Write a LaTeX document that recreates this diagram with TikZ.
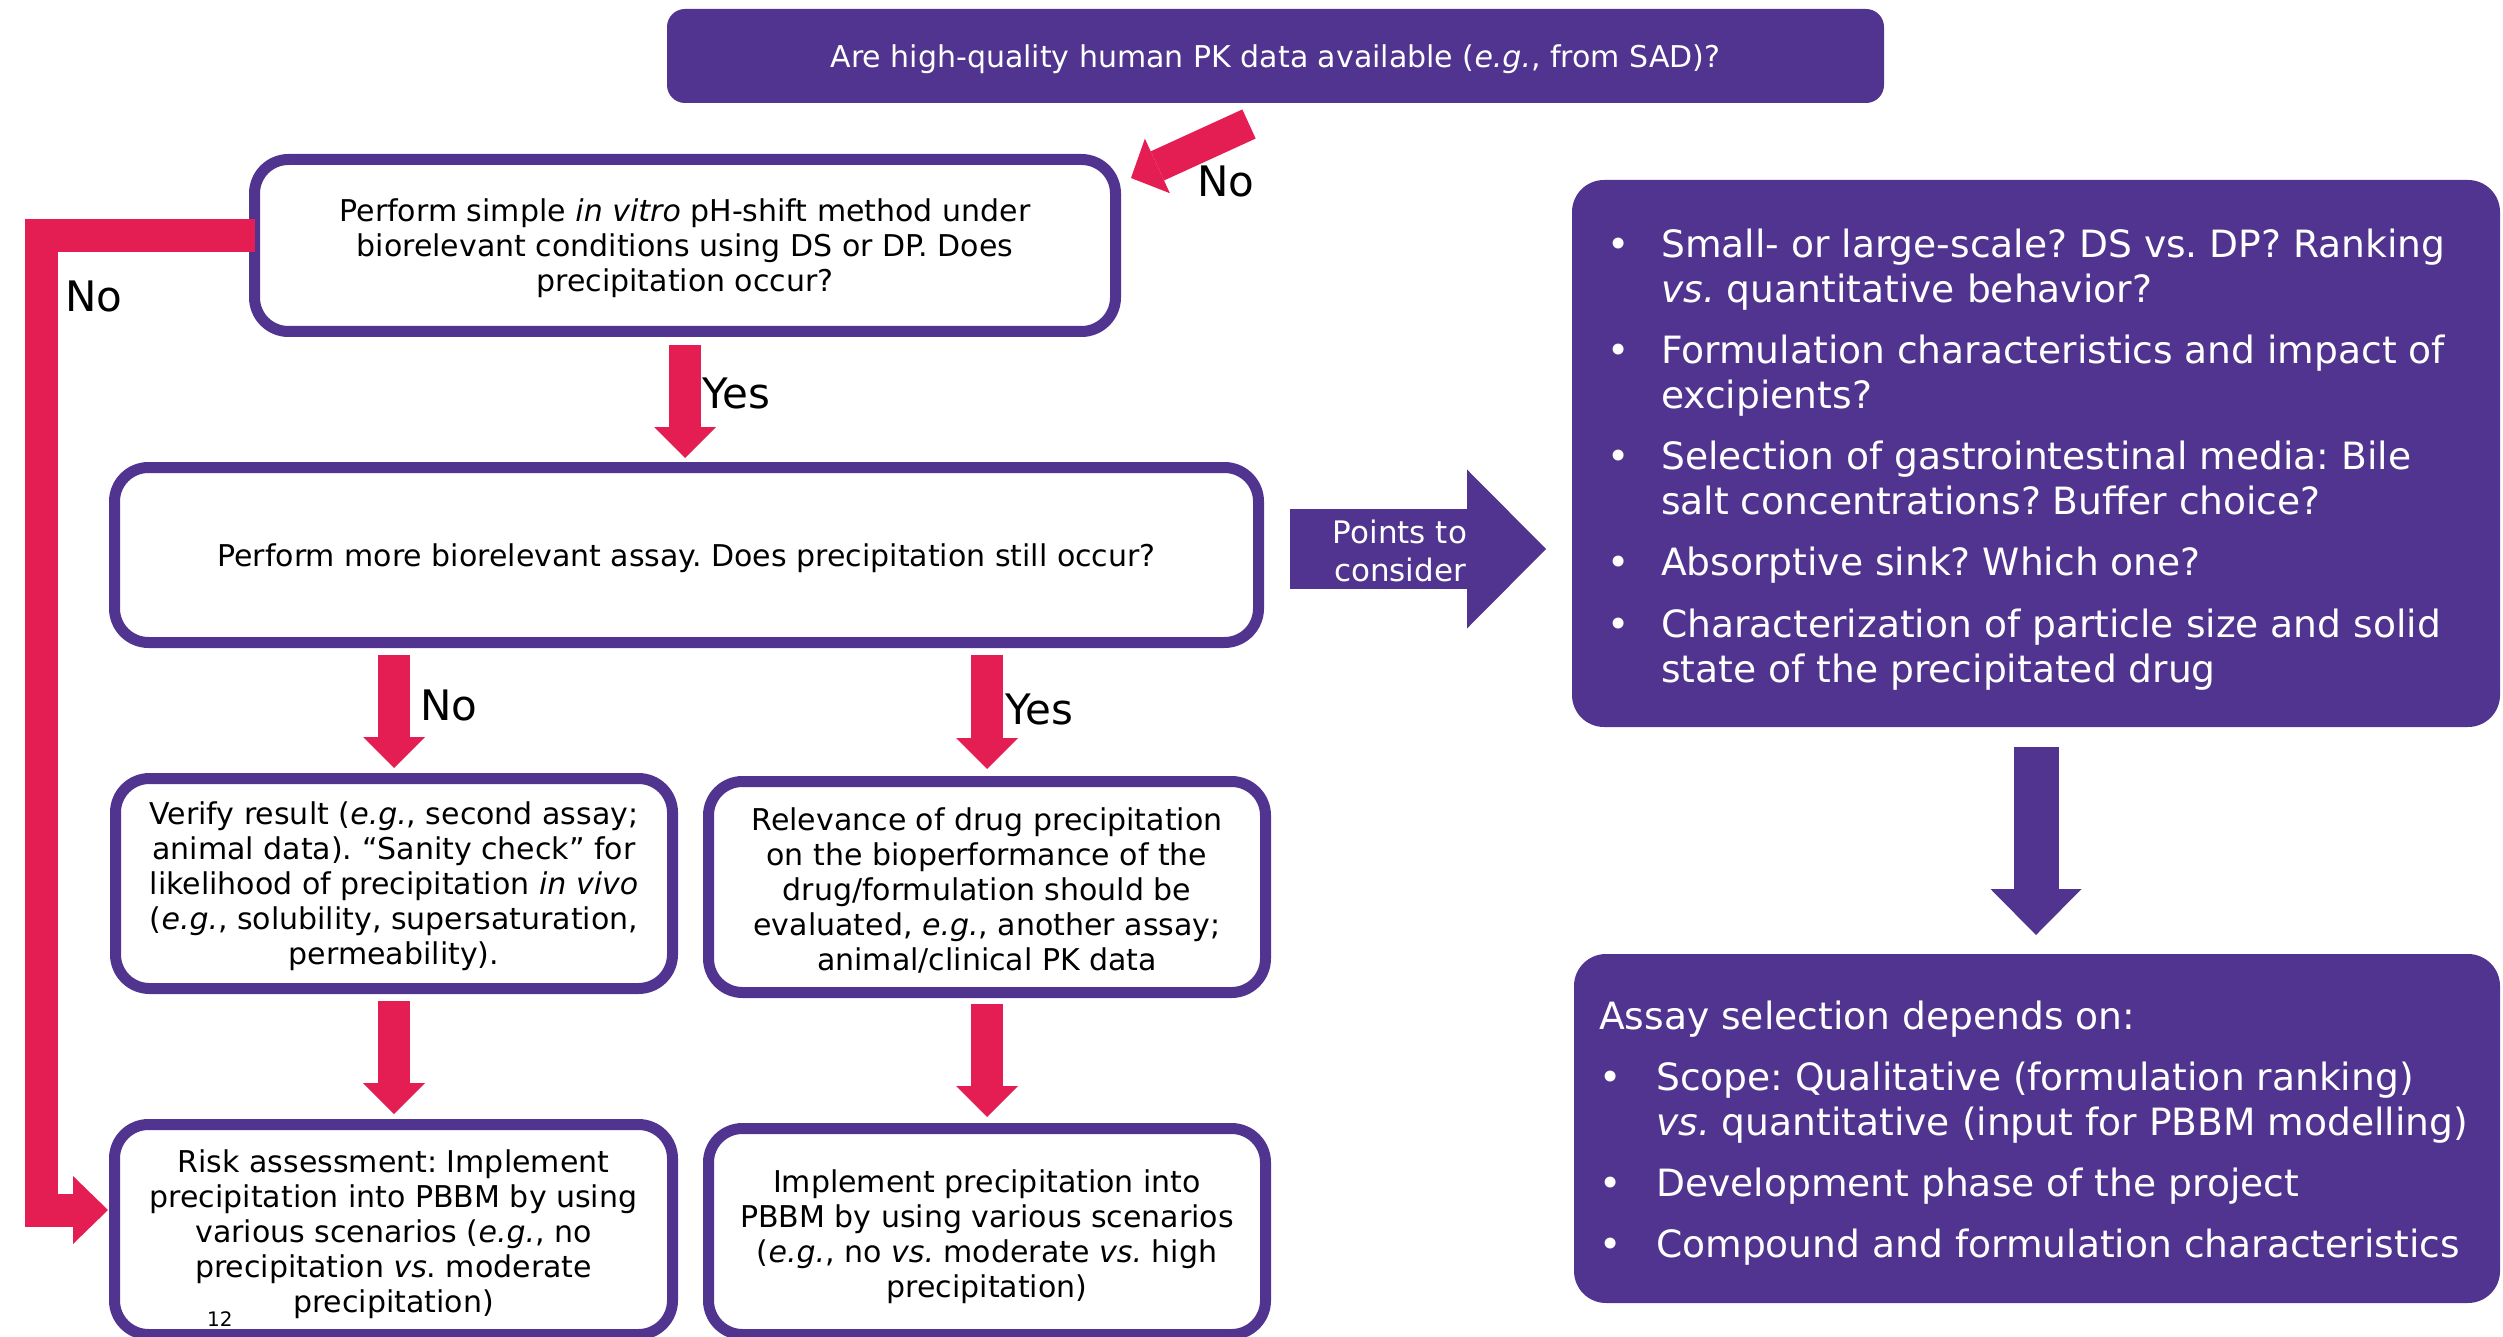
\documentclass[tikz,border=0pt]{standalone}
\usepackage{fontspec}
\setmainfont{DejaVu Sans}
\usetikzlibrary{arrows.meta,calc}
\frenchspacing
\definecolor{vpurple}{RGB}{80,52,143}
\definecolor{vpink}{RGB}{228,30,82}
\newcommand\bxfont{\fontsize{30}{35}\selectfont}
\newcommand\lblfont{\fontsize{42}{48}\selectfont}
\newcommand\ptfont{\fontsize{31}{38}\selectfont}
\newcommand\rtfont{\fontsize{37.6}{45}\selectfont}
\newcommand\itm{\makebox[54pt][l]{•}}
\newcommand\itmb{\makebox[57pt][l]{•}}
% invisible strut that lowers a centred text block a little
\newcommand\lowr[1]{\rule{0pt}{#1}}

\begin{document}
\begin{tikzpicture}[x=1pt,y=-1pt,
  wbox/.style={draw=vpurple, line width=11pt, fill=white, rounded corners=34pt,
    align=center, font=\bxfont, inner sep=0pt, outer sep=0pt},
  qbox/.style={fill=vpurple, text=white, inner sep=0pt, outer sep=0pt},
  flow/.style={draw=vpink, line width=32pt,
    -{Triangle[length=31pt 0 0,width=62pt 0 0,line width=0pt 0 0]}},
  flowd/.style={draw=vpink, line width=32pt,
    -{Triangle[length=29pt 0 0,width=60pt 0 0,line width=0pt 0 0]}},
  flowl/.style={draw=vpink, line width=33pt, line join=miter,
    -{Triangle[length=35pt 0 0,width=68pt 0 0,line width=0pt 0 0]}},
  pflow/.style={draw=vpurple, line width=45pt,
    -{Triangle[length=46pt 0 0,width=91pt 0 0,line width=0pt 0 0]}},
  bigflow/.style={draw=vpurple, line width=80pt,
    -{Triangle[length=79pt 0 0,width=159pt 0 0,line width=0pt 0 0]}},
  lbl/.style={font=\lblfont, inner sep=0pt, anchor=base west}
]
\useasboundingbox (0,0) rectangle (2503,1337);

% question header
\node[qbox, rounded corners=18pt, minimum width=1217pt, minimum height=94pt, font=\bxfont]
  (q) at (1275.5,56) {\lowr{29pt}Are high-quality human PK data available (\textit{e.g.}, from SAD)?};

% flowchart boxes
\node[wbox, minimum width=861pt, minimum height=172pt] (b1) at (685,245.5)
  {\lowr{29pt}Perform simple \textit{in vitro} pH-shift method under\\
   biorelevant conditions using DS or DP. Does\\
   precipitation occur?};
\node[wbox, minimum width=1144pt, minimum height=175pt] (b2) at (686.5,555)
  {\lowr{29pt}Perform more biorelevant assay. Does precipitation still occur?};
\node[wbox, minimum width=557pt, minimum height=210pt] (b3) at (394,883.5)
  {\lowr{29pt}Verify result (\textit{e.g.}, second assay;\\
   animal data). “Sanity check” for\\
   likelihood of precipitation \textit{in vivo}\\
   (\textit{e.g.}, solubility, supersaturation,\\
   permeability).};
\node[wbox, minimum width=557pt, minimum height=211pt] (b4) at (987,887)
  {\lowr{29pt}Relevance of drug precipitation\\
   on the bioperformance of the\\
   drug/formulation should be\\
   evaluated, \textit{e.g.}, another assay;\\
   animal/clinical PK data};
\node[wbox, minimum width=558pt, minimum height=210pt] (b5) at (393.5,1229.5)
  {\lowr{33pt}Risk assessment: Implement\\
   precipitation into PBBM by using\\
   various scenarios (\textit{e.g.}, no\\
   precipitation \textit{vs}. moderate\\
   precipitation)};
\node[wbox, minimum width=557pt, minimum height=206pt] (b6) at (987,1231.5)
  {\lowr{33pt}Implement precipitation into\\
   PBBM by using various scenarios\\
   (\textit{e.g.}, no \textit{vs.} moderate \textit{vs.} high\\
   precipitation)};

% right-hand panels
\node[qbox, rounded corners=32pt, minimum width=928pt, minimum height=547pt] (r1) at (2036,453.5) {};
\node[qbox, rounded corners=32pt, minimum width=926pt, minimum height=349pt] (r2) at (2037,1128.5) {};

\node[anchor=base west, inner sep=0pt, text=white, font=\rtfont] (r1t) at (1607,258)
  {\begin{tabular}[t]{@{}l@{}l@{}}
   \itm & Small- or large-scale? DS vs. DP? Ranking\\
        & \textit{vs.} quantitative behavior?\\[16pt]
   \itm & Formulation characteristics and impact of\\
        & excipients?\\[16pt]
   \itm & Selection of gastrointestinal media: Bile\\
        & salt concentrations? Buffer choice?\\[16pt]
   \itm & Absorptive sink? Which one?\\[17pt]
   \itm & Characterization of particle size and solid\\
        & state of the precipitated drug
   \end{tabular}};
\node[anchor=base west, inner sep=0pt, text=white, font=\rtfont] (r2t) at (1599,1029)
  {\begin{tabular}[t]{@{}l@{}l@{}}
   \multicolumn{2}{@{}l@{}}{Assay selection depends on:}\\[16pt]
   \itmb & Scope: Qualitative (formulation ranking)\\
         & \textit{vs.} quantitative (input for PBBM modelling)\\[16pt]
   \itmb & Development phase of the project\\[16pt]
   \itmb & Compound and formulation characteristics
   \end{tabular}};

% connectors
\draw[flowd] ($(q.south)+(-26.5,21)$) -- ($(b1.north east)+(15.5,18.5)$);
\coordinate (rail) at (41,1210);
\draw[flowl] ($(b1.west)+(0,-9.5)$) -| (rail) -- ($(b5.west)+(-6.5,-19.5)$);
\draw[flow, shorten <=13.5pt, shorten >=9.5pt] (b1.south) -- (b1.south |- b2.north);
\draw[flow, shorten <=12.5pt, shorten >=10.5pt] (b3.north |- b2.south) -- (b3.north);
\draw[flow, shorten <=12.5pt, shorten >=12.5pt] (b4.north |- b2.south) -- (b4.north);
\draw[flow, shorten <=12.5pt, shorten >=10.5pt] (b3.south) -- (b3.south |- b5.north);
\draw[flow, shorten <=11.5pt, shorten >=11.5pt] (b4.south) -- (b4.south |- b6.north);
\draw[pflow, shorten <=20pt, shorten >=19pt] (r1.south) -- (r1.south |- r2.north);
\draw[bigflow] ($(b2.east)+(31.5,-6)$) -- ($(b2.east -| r1.west)+(-26,-6)$);
\node[font=\ptfont, text=white, align=center, inner sep=0pt] (pts) at (1400,551) {Points to\\consider};

% branch labels
\node[lbl] (l1) at (1197,197) {No};
\node[lbl] (l2) at (65,312) {No};
\node[lbl] (l3) at (702,409) {Yes};
\node[lbl] (l4) at (420,720) {No};
\node[lbl] (l5) at (1005,724) {Yes};

% page number
\node[anchor=base west, inner sep=0pt, font=\fontsize{20}{24}\selectfont] (pg) at (207,1326) {12};
\end{tikzpicture}
\end{document}
